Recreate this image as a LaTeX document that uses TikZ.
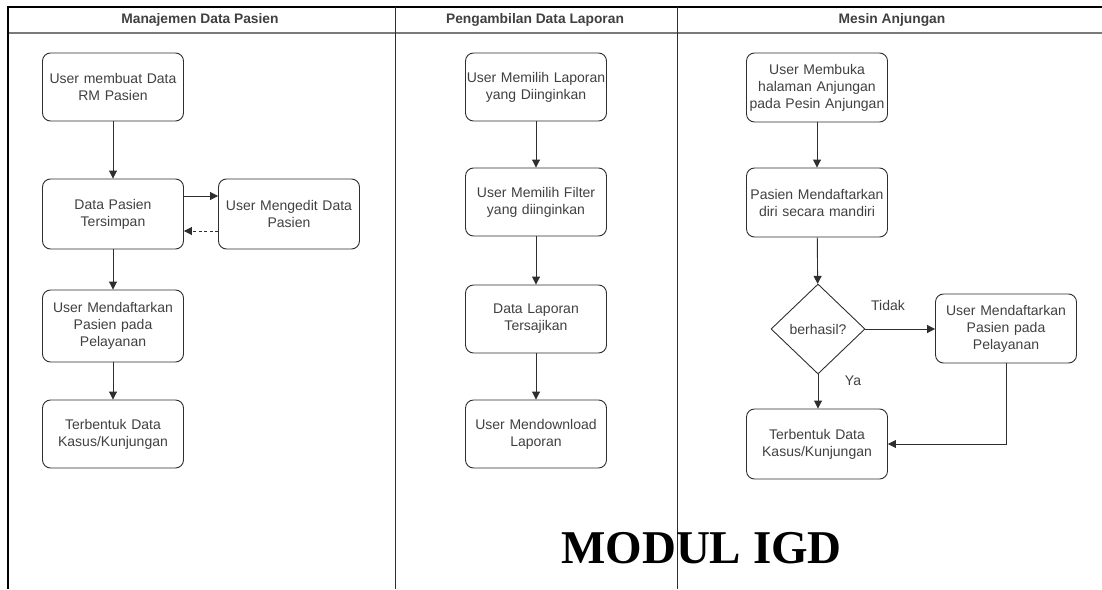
\documentclass[tikz,border=0pt]{standalone}
\usepackage{fontspec}
\setmainfont{Liberation Sans}
\newfontfamily\timesb{Liberation Serif}
\usetikzlibrary{arrows.meta,shapes.geometric}
\definecolor{ln}{HTML}{2E2E2E}
\definecolor{tx}{HTML}{404040}
\definecolor{hd}{HTML}{7A7A7A}
\begin{document}
\begin{tikzpicture}[x=1pt,y=-1pt,
  box/.style={draw=ln,line width=0.9pt,rounded corners=8pt,minimum width=141pt,
    text width=141pt,inner sep=0pt,align=center,text=tx,
    font=\fontsize{14}{17}\selectfont},
  dia/.style={draw=ln,line width=0.9pt,diamond,minimum width=94pt,minimum height=90pt,
    inner sep=0pt,text=tx,font=\fontsize{14}{17}\selectfont},
  arr/.style={draw=ln,line width=0.9pt,-{Triangle[length=8pt,width=8pt]}},
  dasharr/.style={arr,dash pattern=on 3pt off 2.5pt},
  lbl/.style={text=tx,font=\fontsize{14}{17}\selectfont,inner sep=0pt},
  head/.style={text=tx,font=\bfseries\fontsize{13.8}{16}\selectfont,inner sep=0pt},
]
\useasboundingbox (0,0) rectangle (1102,589);
% frame
\draw[black,line width=2pt] (8,7) -- (1102,7);
\draw[hd,line width=1.6pt] (8,33) -- (1102,33);
\draw[black,line width=2pt] (8,6) -- (8,589);
\draw[ln,line width=1pt] (395,7) -- (395,589);
\draw[ln,line width=1pt] (677,7) -- (677,589);
% headers
\node[head] (h1) at (200,20) {Manajemen Data Pasien};
\node[head] (h2) at (535,20) {Pengambilan Data Laporan};
\node[head] (h3) at (892,20) {Mesin Anjungan};
% column 1
\node[box,minimum height=68pt] (a1) at (113,87) {User membuat Data\\RM Pasien};
\node[box,minimum height=70pt] (a2) at (113,214) {Data Pasien\\Tersimpan};
\node[box,minimum height=70pt] (ae) at (289,214) {User Mengedit Data\\Pasien};
\node[box,minimum height=72pt] (a3) at (113,326) {User Mendaftarkan\\Pasien pada\\Pelayanan};
\node[box,minimum height=68pt] (a4) at (113,434) {Terbentuk Data\\Kasus/Kunjungan};
\draw[arr] (a1) -- (a2);
\draw[arr] ([yshift=18pt]a2.east) -- ([yshift=18pt]ae.west);
\draw[dasharr] ([yshift=-17pt]ae.west) -- ([yshift=-17pt]a2.east);
\draw[arr] (a2) -- (a3);
\draw[arr] (a3) -- (a4);
% column 2
\node[box,minimum height=68pt] (b1) at (536,87) {User Memilih Laporan\\yang Diinginkan};
\node[box,minimum height=68pt] (b2) at (536,202) {User Memilih Filter\\yang diinginkan};
\node[box,minimum height=68pt] (b3) at (536,319) {Data Laporan\\Tersajikan};
\node[box,minimum height=68pt] (b4) at (536,434) {User Mendownload\\Laporan};
\draw[arr] (b1) -- (b2);
\draw[arr] (b2) -- (b3);
\draw[arr] (b3) -- (b4);
% column 3
\node[box,minimum height=69pt] (c1) at (817,87.5) {User Membuka\\halaman Anjungan\\pada Pesin Anjungan};
\node[box,minimum height=69pt] (c2) at (817,202.5) {Pasien Mendaftarkan\\diri secara mandiri};
\node[dia] (c3) at (818,329) {berhasil?};
\node[box,minimum height=69pt] (cr) at (1006,328.5) {User Mendaftarkan\\Pasien pada\\Pelayanan};
\node[box,minimum height=70pt] (c4) at (817,444) {Terbentuk Data\\Kasus/Kunjungan};
\draw[arr] (c1) -- (c2);
\draw[arr] (c2) -- (c3);
\draw[arr] (c3.east) -- (cr.west |- c3.east);
\draw[arr] (c3.south) -- (c4.north -| c3.south);
\draw[arr] (cr.south) |- (c4.east);
\node[lbl] (tidak) at (888,305) {Tidak};
\node[lbl] (ya) at (853,381) {Ya};
% title
\node[anchor=base,inner sep=0pt,font=\timesb\bfseries\fontsize{47}{47}\selectfont] (title) at (701.5,563) {MODUL IGD};
\end{tikzpicture}
\end{document}
